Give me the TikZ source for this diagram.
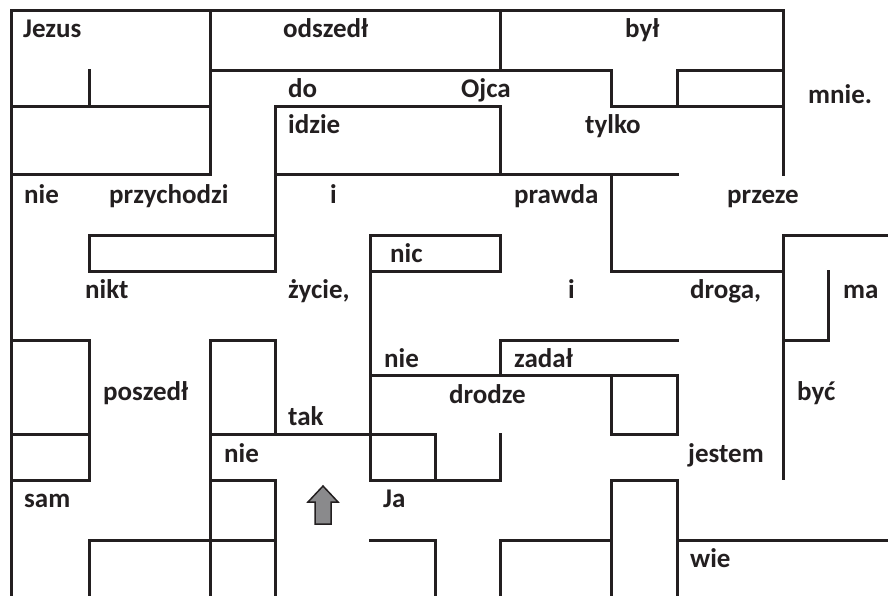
\documentclass[tikz,border=0pt]{standalone}
\usepackage{fontspec}
\setmainfont{Carlito}
\usepackage{tikz}
\usetikzlibrary{positioning}
\definecolor{ink}{HTML}{231F20}
\definecolor{arrowgray}{HTML}{8A8A8C}

\begin{document}
\begin{tikzpicture}[
  x=1pt, y=-1pt,
  wall/.style={draw=ink, line width=3pt, line cap=rect, line join=miter},
  word/.style={anchor=base west, inner sep=0pt, text=ink, font=\fontsize{27}{32}\selectfont\bfseries},
  uparrow/.style={draw=ink, line width=1.5pt, fill=arrowgray, line join=miter}
]

\useasboundingbox[fill=white] (0,0) rectangle (888,595);

% === Outer walls ===
\draw[wall] (11,595) -- (11,10) -- (783,10) -- (783,174);

% === Horizontal walls ===
\draw[wall] (210,70) -- (611,70) -- (611,106) -- (677,106) -- (677,70) -- (783,70);
\draw[wall] (677,106) -- (783,106);
\draw[wall] (11,106) -- (210,106);
\draw[wall] (275,106) -- (500,106);
\draw[wall] (11,174) -- (210,174);
\draw[wall] (275,174) -- (677,174);
\draw[wall] (89,235) -- (275,235);
\draw[wall] (370,235) -- (500,235);
\draw[wall] (783,235) -- (888,235);
\draw[wall] (89,271) -- (275,271);
\draw[wall] (370,271) -- (500,271);
\draw[wall] (611,271) -- (783,271);
\draw[wall] (11,340) -- (89,340);
\draw[wall] (210,340) -- (275,340);
\draw[wall] (500,340) -- (677,340);
\draw[wall] (783,340) -- (828,340);
\draw[wall] (370,375) -- (677,375);
\draw[wall] (11,434) -- (89,434);
\draw[wall] (210,434) -- (435,434);
\draw[wall] (611,434) -- (677,434);
\draw[wall] (11,480) -- (89,480);
\draw[wall] (210,480) -- (275,480);
\draw[wall] (370,480) -- (500,480);
\draw[wall] (611,480) -- (677,480);
\draw[wall] (89,540) -- (275,540);
\draw[wall] (370,540) -- (435,540);
\draw[wall] (500,540) -- (611,540);
\draw[wall] (677,540) -- (888,540);

% === Vertical walls ===
\draw[wall] (89,70) -- (89,106);
\draw[wall] (89,235) -- (89,271);
\draw[wall] (89,340) -- (89,480);
\draw[wall] (89,540) -- (89,595);
\draw[wall] (210,10) -- (210,174);
\draw[wall] (210,340) -- (210,595);
\draw[wall] (275,106) -- (275,271);
\draw[wall] (275,340) -- (275,434);
\draw[wall] (275,480) -- (275,595);
\draw[wall] (370,235) -- (370,480);
\draw[wall] (435,434) -- (435,480);
\draw[wall] (435,540) -- (435,595);
\draw[wall] (500,10) -- (500,70);
\draw[wall] (500,106) -- (500,174);
\draw[wall] (500,235) -- (500,271);
\draw[wall] (500,340) -- (500,375);
\draw[wall] (500,434) -- (500,480);
\draw[wall] (500,540) -- (500,595);
\draw[wall] (611,174) -- (611,271);
\draw[wall] (611,375) -- (611,434);
\draw[wall] (611,480) -- (611,595);
\draw[wall] (677,375) -- (677,434);
\draw[wall] (677,480) -- (677,595);
\draw[wall] (783,235) -- (783,478);
\draw[wall] (828,271) -- (828,340);

% === Words ===
\node[word] (jezus)      at (23,37)  {Jezus};
\node[word] (odszedl)    at (283,37) {odszedł};
\node[word] (byl)        at (625,37) {był};
\node[word] (wdo)        at (288,97) {do};
\node[word] (ojca)       at (461,97) {Ojca};
\node[word] (mnie)       at (808,103) {mnie.};
\node[word] (idzie)      at (288,133) {idzie};
\node[word] (tylko)      at (585,133) {tylko};
\node[word] (nieA)       at (24,203) {nie};
\node[word] (przychodzi) at (109,203) {przychodzi};
\node[word] (iA)         at (330,203) {i};
\node[word] (prawda)     at (514,203) {prawda};
\node[word] (przeze)     at (727,203) {przeze};
\node[word] (nic)        at (390,262) {nic};
\node[word] (nikt)       at (85,298) {nikt};
\node[word] (zycie)      at (288,298) {życie,};
\node[word] (iB)         at (568,298) {i};
\node[word] (droga)      at (690,298) {droga,};
\node[word] (ma)         at (843,298) {ma};
\node[word] (nieB)       at (384,367) {nie};
\node[word] (zadal)      at (514,367) {zadał};
\node[word] (poszedl)    at (103,400) {poszedł};
\node[word] (drodze)     at (449,403) {drodze};
\node[word] (byc)        at (797,400) {być};
\node[word] (tak)        at (288,425) {tak};
\node[word] (nieC)       at (224,462) {nie};
\node[word] (jestem)     at (688,462) {jestem};
\node[word] (sam)        at (24,507) {sam};
\node[word] (ja)         at (383,507) {Ja};
\node[word] (wie)        at (690,567) {wie};

% === Start arrow ===
\draw[uparrow] (323,486) -- (338,502) -- (331,502) -- (331,524) -- (315,524) -- (315,502) -- (308,502) -- cycle;

\end{tikzpicture}
\end{document}
